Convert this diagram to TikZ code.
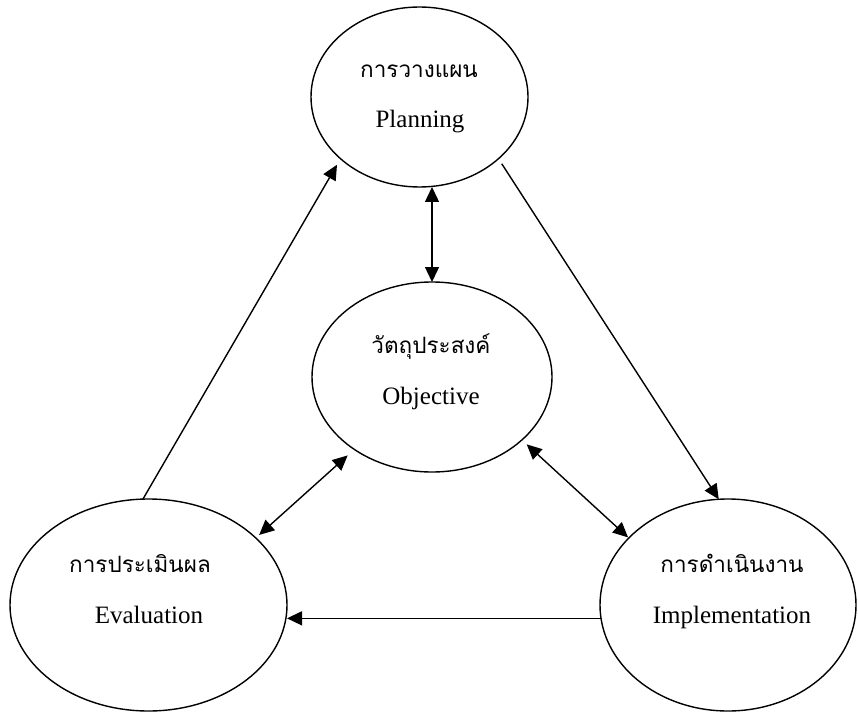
\documentclass[tikz,border=0pt]{standalone}
\usepackage{fontspec}
\setmainfont{Liberation Serif}
\newfontfamily\thaifont[Script=Thai]{Loma}
\usetikzlibrary{arrows.meta,calc,shapes.geometric}
\begin{document}
\begin{tikzpicture}[x=1pt,y=-1pt,
  stage/.style={draw, ellipse, line width=1.4pt, inner sep=0pt, outer sep=0pt},
  thai/.style={anchor=base, inner sep=0pt, font=\thaifont\fontsize{22.5}{26}\selectfont},
  eng/.style={anchor=base, inner sep=0pt, font=\fontsize{25}{29}\selectfont},
  conn/.style={line width=1.4pt, -{Triangle[length=15pt,width=14pt]}},
  biconn/.style={line width=1.4pt, {Triangle[length=15pt,width=14pt]}-{Triangle[length=15pt,width=14pt]}}
]
\useasboundingbox (0,0) rectangle (858,711);
% ellipses
\node[stage, minimum width=217pt, minimum height=180pt] (plan) at (419.5,97) {};
\node[stage, minimum width=240pt, minimum height=190pt] (obj) at (432,377) {};
\node[stage, minimum width=277pt, minimum height=212pt] (eval) at (148.5,605) {};
\node[stage, minimum width=256pt, minimum height=212pt] (impl) at (728,605) {};
% texts
\node[thai] (planth) at (419,78) {การวางแผน};
\node[eng] (planen) at (420,128) {Planning};
\node[thai] (objth) at (431,353) {วัตถุประสงค์};
\node[eng] (objen) at (431,404) {Objective};
\node[thai] (evalth) at (140,572) {การประเมินผล};
\node[eng] (evalen) at (149,623) {Evaluation};
\node[thai] (implth) at (732,572) {การดำเนินงาน};
\node[eng] (implen) at (732,623) {Implementation};
% connectors
\draw[conn, shorten >=7pt] (eval.93) -- (plan.218);
\draw[conn, shorten <=6pt] (plan.322) -- (impl.95);
\draw[biconn] (obj.north |- plan.south) -- (obj.north);
\draw[biconn, shorten <=4.5pt, shorten >=9pt] (eval.32) -- (obj.223);
\draw[biconn, shorten <=6.5pt, shorten >=1pt] (obj.325) -- (impl.146);
\draw[conn] (impl.186) -- (impl.186 -| eval.east);
\end{tikzpicture}
\end{document}
